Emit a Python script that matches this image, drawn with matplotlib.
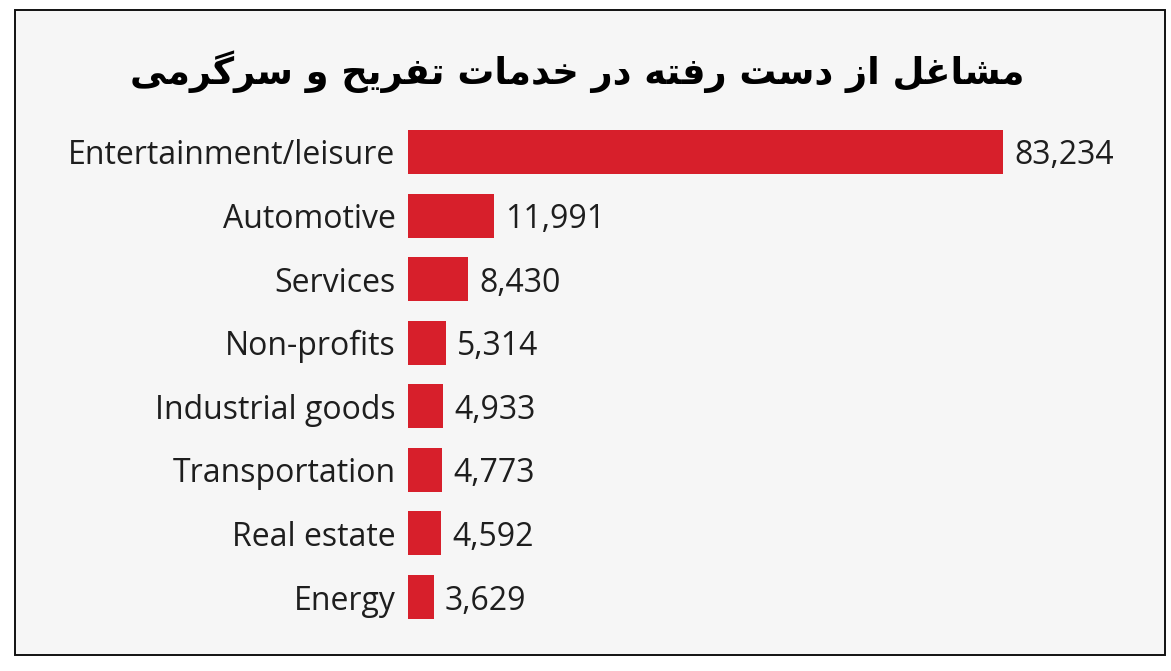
import matplotlib
matplotlib.use("Agg")
import matplotlib.pyplot as plt
from matplotlib.patches import Rectangle

# Data
title_fa = "مشاغل از دست رفته در خدمات تفریح و سرگرمی"
categories = [
    "Entertainment/leisure",
    "Automotive",
    "Services",
    "Non-profits",
    "Industrial goods",
    "Transportation",
    "Real estate",
    "Energy",
]
jobs_lost = [83234, 11991, 8430, 5314, 4933, 4773, 4592, 3629]

BAR_COLOR = "#d71f2b"
BG_COLOR = "#f6f6f6"
TEXT_COLOR = "#1e1e1e"
LABEL_SIZE = 23

# presentation forms: isolated, final, initial, medial
FORMS = {
    "ا": ("\uFE8D", "\uFE8E"),
    "د": ("\uFEA9", "\uFEAA"),
    "ر": ("\uFEAD", "\uFEAE"),
    "ز": ("\uFEAF", "\uFEB0"),
    "و": ("\uFEED", "\uFEEE"),
    "م": ("\uFEE1", "\uFEE2", "\uFEE3", "\uFEE4"),
    "ش": ("\uFEB5", "\uFEB6", "\uFEB7", "\uFEB8"),
    "غ": ("\uFECD", "\uFECE", "\uFECF", "\uFED0"),
    "ل": ("\uFEDD", "\uFEDE", "\uFEDF", "\uFEE0"),
    "س": ("\uFEB1", "\uFEB2", "\uFEB3", "\uFEB4"),
    "ت": ("\uFE95", "\uFE96", "\uFE97", "\uFE98"),
    "ف": ("\uFED1", "\uFED2", "\uFED3", "\uFED4"),
    "ه": ("\uFEE9", "\uFEEA", "\uFEEB", "\uFEEC"),
    "خ": ("\uFEA5", "\uFEA6", "\uFEA7", "\uFEA8"),
    "ح": ("\uFEA1", "\uFEA2", "\uFEA3", "\uFEA4"),
    "ی": ("\uFBFC", "\uFBFD", "\uFBFE", "\uFBFF"),
    "گ": ("\uFB92", "\uFB93", "\uFB94", "\uFB95"),
}


def shape_rtl(text: str) -> str:
    """Crude Persian shaping + visual reordering (matplotlib has no bidi)."""
    out = []
    chars = list(text)
    for i, ch in enumerate(chars):
        if ch not in FORMS:
            out.append(ch)
            continue
        prev = chars[i - 1] if i > 0 else None
        nxt = chars[i + 1] if i + 1 < len(chars) else None
        joins_prev = prev in FORMS and len(FORMS[prev]) == 4
        joins_next = len(FORMS[ch]) == 4 and nxt in FORMS
        forms = FORMS[ch]
        if joins_prev and joins_next:
            out.append(forms[3])
        elif joins_prev:
            out.append(forms[1])
        elif joins_next:
            out.append(forms[2])
        else:
            out.append(forms[0])
    return "".join(reversed(out))


W, H = 1171, 671
fig = plt.figure(figsize=(W / 100, H / 100), dpi=100, facecolor="white")

# framed panel (behind the axes)
fig.patches.append(
    Rectangle((15 / W, 1 - 655 / H), 1150 / W, 645 / H, transform=fig.transFigure,
              facecolor=BG_COLOR, edgecolor="#111111", linewidth=1.4, zorder=-1)
)

fig.text(577 / W, 1 - 72 / H, shape_rtl(title_fa), ha="center", va="center",
         fontsize=26.5, fontweight="bold", family="DejaVu Sans", color="#000000")

n = len(categories)
step = (597 - 152) / (n - 1)
top_px = 152 - step / 2
bot_px = 597 + step / 2
ax = fig.add_axes([408 / W, 1 - bot_px / H, 595 / W, (bot_px - top_px) / H])
ax.set_facecolor("none")
positions = list(range(n))
ax.barh(positions, jobs_lost, height=0.69, color=BAR_COLOR)
ax.set_xlim(0, jobs_lost[0])
ax.set_ylim(n - 0.5, -0.5)
ax.set_yticks(positions)
ax.set_yticklabels(categories, fontsize=LABEL_SIZE, family="Open Sans",
                   color=TEXT_COLOR, va="center_baseline")
ax.tick_params(axis="y", length=0, pad=9)
ax.set_xticks([])
for spine in ax.spines.values():
    spine.set_visible(False)

for pos, val in zip(positions, jobs_lost):
    ax.annotate(f"{val:,}", (val, pos), xytext=(8, 0), textcoords="offset points",
                ha="left", va="center_baseline", fontsize=LABEL_SIZE,
                family="Open Sans", color=TEXT_COLOR, annotation_clip=False)

fig.savefig("out.png", dpi=100, facecolor="white")
